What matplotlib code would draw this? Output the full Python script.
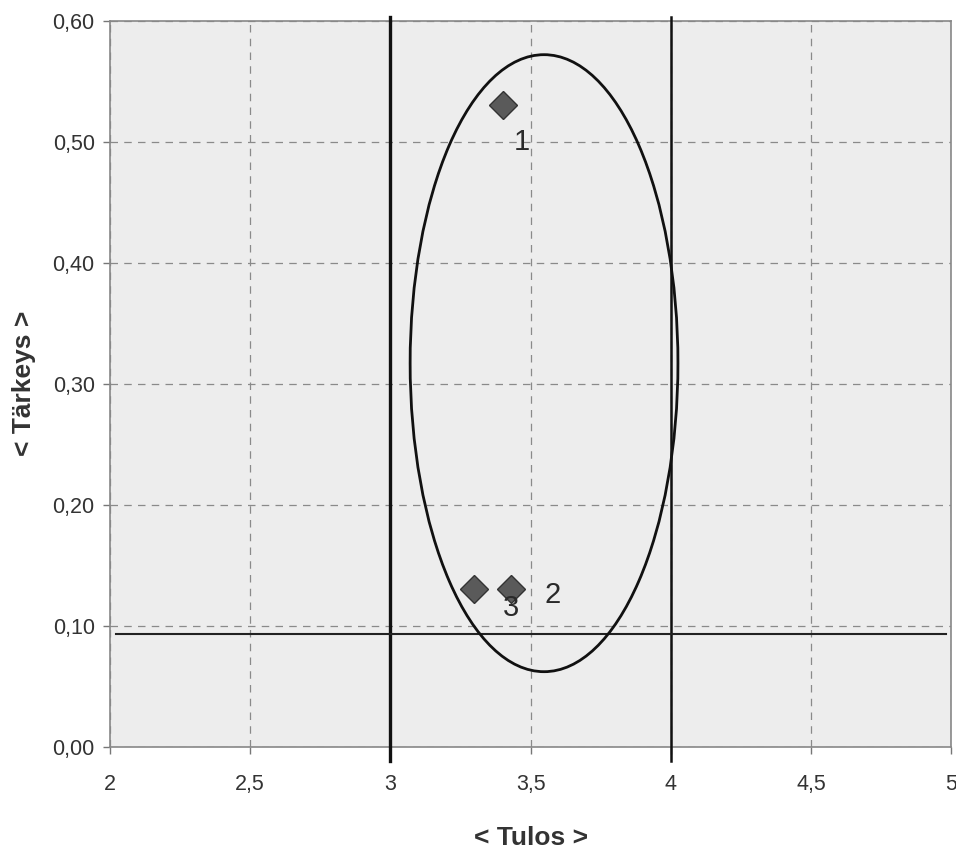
import matplotlib
matplotlib.use("Agg")
import matplotlib.pyplot as plt
from matplotlib.patches import Ellipse
from matplotlib.ticker import FuncFormatter

plt.rcParams['font.family'] = ['Liberation Sans', 'DejaVu Sans']

# points
tulos = [3.40, 3.43, 3.30]
tarkeys = [0.53, 0.13, 0.13]
labels = ['1', '2', '3']
label_x = [3.47, 3.58, 3.43]
label_y = [0.50, 0.125, 0.115]

# reference lines and ellipse
vlines_x = [3.0, 4.0]
hline_y = 0.093
ell_center = (3.548, 0.317)
ell_w, ell_h = 0.955, 0.51

x_ticks = [2, 2.5, 3, 3.5, 4, 4.5, 5]
y_ticks = [0.0, 0.1, 0.2, 0.3, 0.4, 0.5, 0.6]

fig = plt.figure(figsize=(9.56, 8.49), dpi=100)
ax = fig.add_axes([0.115, 0.1205, 0.88, 0.855])
ax.set_facecolor('#ededed')

ax.set_xlim(2, 5)
ax.set_ylim(0, 0.6)
ax.set_xticks(x_ticks)
ax.set_yticks(y_ticks)
ax.xaxis.set_major_formatter(FuncFormatter(lambda v, p: ('%g' % v).replace('.', ',')))
ax.yaxis.set_major_formatter(FuncFormatter(lambda v, p: ('%.2f' % v).replace('.', ',')))
ax.tick_params(axis='both', labelsize=15.5, colors='#333333', length=5, width=1)
ax.tick_params(axis='x', pad=15, color='#777777')
ax.tick_params(axis='y', pad=6, color='#777777')

ax.grid(True, linestyle=(0, (6, 5)), color='#8a8a8a', linewidth=0.9)
ax.set_axisbelow(True)
for s in ax.spines.values():
    s.set_color('#888888')
    s.set_linewidth(1.2)

for i, xv in enumerate(vlines_x):
    ax.plot([xv, xv], [-0.012, 0.603], color='#111111', lw=2.4 if i == 0 else 1.8,
            clip_on=False, zorder=3)
ax.plot([2.02, 4.98], [hline_y, hline_y], color='#222222', lw=1.5, zorder=3)

ax.add_patch(Ellipse(ell_center, ell_w, ell_h, fill=False, edgecolor='#111111',
                     lw=2.0, zorder=4))

ax.plot(tulos, tarkeys, linestyle='none', marker='D', markersize=14,
        markerfacecolor='#5a5a5a', markeredgecolor='#333333', markeredgewidth=1, zorder=5)
for t, lx, ly in zip(labels, label_x, label_y):
    ax.text(lx, ly, t, fontsize=21, color='#2a2a2a', ha='center', va='center', zorder=6)

ax.set_xlabel('< Tulos >', fontsize=19, fontweight='bold', color='#333333', labelpad=22)
ax.set_ylabel('< Tärkeys >', fontsize=19, fontweight='bold', color='#333333', labelpad=12)

fig.savefig('out.png', dpi=100)
